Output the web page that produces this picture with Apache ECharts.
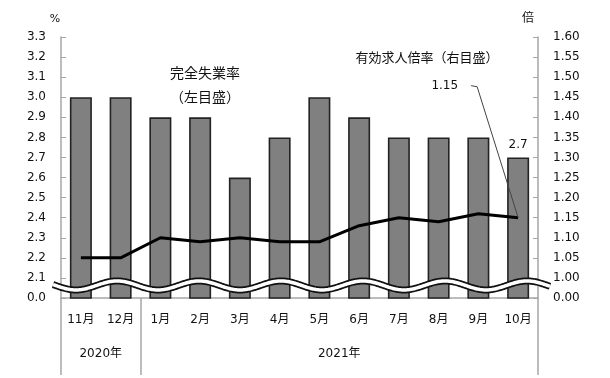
<!DOCTYPE html>
<html>
<head>
<meta charset="utf-8">
<script src="https://cdn.jsdelivr.net/npm/echarts@6/dist/echarts.min.js"></script>
<style>
  html, body { margin: 0; padding: 0; background: #fff; }
  #chart { width: 610px; height: 378px; }
</style>
</head>
<body>
<div id="chart"></div>
<script>
const months = ['11月', '12月', '1月', '2月', '3月', '4月', '5月', '6月', '7月', '8月', '9月', '10月'];
const years = ['2020年', '2021年'];
const yearSpans = [2, 10];
const unemployment = [3.0, 3.0, 2.9, 2.9, 2.6, 2.8, 3.0, 2.9, 2.8, 2.8, 2.8, 2.7];
const jobsRatio = [1.05, 1.05, 1.10, 1.09, 1.10, 1.09, 1.09, 1.13, 1.15, 1.14, 1.16, 1.15];

// broken axes: the lowest tick stands for zero
const leftBreak = 2.0;
const rightBreak = 0.95;

const FONT = "'DejaVu Sans', 'Noto Sans CJK JP', sans-serif";
const JP = "'Noto Sans CJK JP', sans-serif";
const GRAY = '#a6a6a6';

const chart = echarts.init(document.getElementById('chart'));

// year group positions on a 0..12 value axis
const yearBounds = [0];
yearSpans.forEach(s => yearBounds.push(yearBounds[yearBounds.length - 1] + s));
const yearCenters = yearSpans.map((s, i) => yearBounds[i] + s / 2);

const option = {
  animation: false,
  backgroundColor: '#fff',
  textStyle: { fontFamily: FONT },
  grid: { left: 61, right: 72, top: 37, bottom: 80 },
  xAxis: [
    {
      type: 'category',
      data: months,
      axisLine: { lineStyle: { color: GRAY, width: 1.5 } },
      axisTick: { show: false },
      axisLabel: { color: '#111', fontSize: 12, margin: 16, fontFamily: FONT }
    },
    {
      type: 'value',
      min: 0,
      max: months.length,
      position: 'bottom',
      axisLine: { show: false },
      splitLine: { show: false },
      axisTick: {
        show: true,
        customValues: yearBounds,
        length: 77,
        lineStyle: { color: GRAY, width: 1.5 }
      },
      axisLabel: {
        customValues: yearCenters,
        margin: 50,
        color: '#111',
        fontSize: 12,
        fontFamily: FONT,
        formatter: v => {
          const i = yearCenters.findIndex(c => Math.abs(c - v) < 1e-6);
          return i >= 0 ? years[i] : '';
        }
      }
    }
  ],
  yAxis: [
    {
      type: 'value',
      min: leftBreak,
      max: 3.3,
      interval: 0.1,
      axisLine: { show: true, lineStyle: { color: GRAY, width: 1.5 } },
      axisTick: { show: true, inside: true, length: 5, lineStyle: { color: GRAY } },
      splitLine: { show: false },
      axisLabel: {
        color: '#111', fontSize: 12, margin: 15, fontFamily: FONT,
        formatter: v => Math.abs(v - leftBreak) < 1e-6 ? '0.0' : v.toFixed(1)
      }
    },
    {
      type: 'value',
      min: rightBreak,
      max: 1.6,
      interval: 0.05,
      position: 'right',
      axisLine: { show: true, lineStyle: { color: GRAY, width: 1.5 } },
      axisTick: { show: true, inside: true, length: 5, lineStyle: { color: GRAY } },
      splitLine: { show: false },
      axisLabel: {
        color: '#111', fontSize: 12, margin: 15, fontFamily: FONT,
        formatter: v => Math.abs(v - rightBreak) < 1e-6 ? '0.00' : v.toFixed(2)
      }
    }
  ],
  series: [
    {
      name: '完全失業率',
      type: 'bar',
      yAxisIndex: 0,
      barWidth: 22,
      data: unemployment.map((v, i) => i === unemployment.length - 1
        ? { value: v, label: { show: true } }
        : v),
      itemStyle: { color: '#808080', borderColor: '#222', borderWidth: 1.6 },
      label: {
        show: false,
        position: 'top',
        distance: 7,
        color: '#111',
        fontSize: 12,
        fontFamily: FONT,
        formatter: p => p.value.toFixed(1)
      }
    },
    {
      name: '有効求人倍率',
      type: 'line',
      yAxisIndex: 1,
      data: jobsRatio,
      symbol: 'none',
      lineStyle: { color: '#000', width: 3 },
      z: 5
    }
  ]
};

chart.setOption(option);

// decorations: axis break wave, annotations, leader line
const yTop = chart.convertToPixel({ yAxisIndex: 0 }, 3.3);
const yWave = chart.convertToPixel({ yAxisIndex: 0 }, leftBreak + 0.0625);
const xLeft = chart.convertToPixel({ xAxisIndex: 1 }, 0);
const xRight = chart.convertToPixel({ xAxisIndex: 1 }, months.length);

const wavePts = [];
const period = 82, amp = 4.5, crest = 527;
for (let x = xLeft - 8; x <= xRight + 12; x += 1) {
  wavePts.push([x, yWave - amp * Math.cos(2 * Math.PI * (x - crest) / period)]);
}

const lastIdx = jobsRatio.length - 1;
const endPt = chart.convertToPixel({ xAxisIndex: 0, yAxisIndex: 1 }, [lastIdx, jobsRatio[lastIdx]]);
const lblX = endPt[0] - 45, lblY = endPt[1] - 132;

chart.setOption({
  graphic: [
    { type: 'polyline', z: 100, shape: { points: wavePts }, style: { stroke: '#111', lineWidth: 7, fill: null } },
    { type: 'polyline', z: 101, shape: { points: wavePts }, style: { stroke: '#fff', lineWidth: 3.5, fill: null } },
    { type: 'text', z: 110, x: xLeft - 6, y: yTop - 18, style: { text: '%', font: '11px ' + FONT, fill: '#111', align: 'center', verticalAlign: 'middle' } },
    { type: 'text', z: 110, x: xRight - 10, y: yTop - 20, style: { text: '倍', font: '12px ' + JP, fill: '#111', align: 'center', verticalAlign: 'middle' } },
    { type: 'text', z: 110, x: 205, y: 73, style: { text: '完全失業率', font: '14px ' + JP, fill: '#111', align: 'center', verticalAlign: 'middle' } },
    { type: 'text', z: 110, x: 205, y: 97, style: { text: '（左目盛）', font: '14px ' + JP, fill: '#111', align: 'center', verticalAlign: 'middle' } },
    { type: 'text', z: 110, x: 427, y: 57, style: { text: '有効求人倍率（右目盛）', font: '13px ' + JP, fill: '#111', align: 'center', verticalAlign: 'middle' } },
    { type: 'text', z: 110, x: lblX - 15, y: lblY, style: { text: jobsRatio[lastIdx].toFixed(2), font: '12px ' + FONT, fill: '#111', align: 'right', verticalAlign: 'middle' } },
    { type: 'polyline', z: 110, shape: { points: [[lblX - 2, lblY], [lblX + 4, lblY + 1], endPt] }, style: { stroke: '#444', lineWidth: 1, fill: null } }
  ]
});
</script>
</body>
</html>
